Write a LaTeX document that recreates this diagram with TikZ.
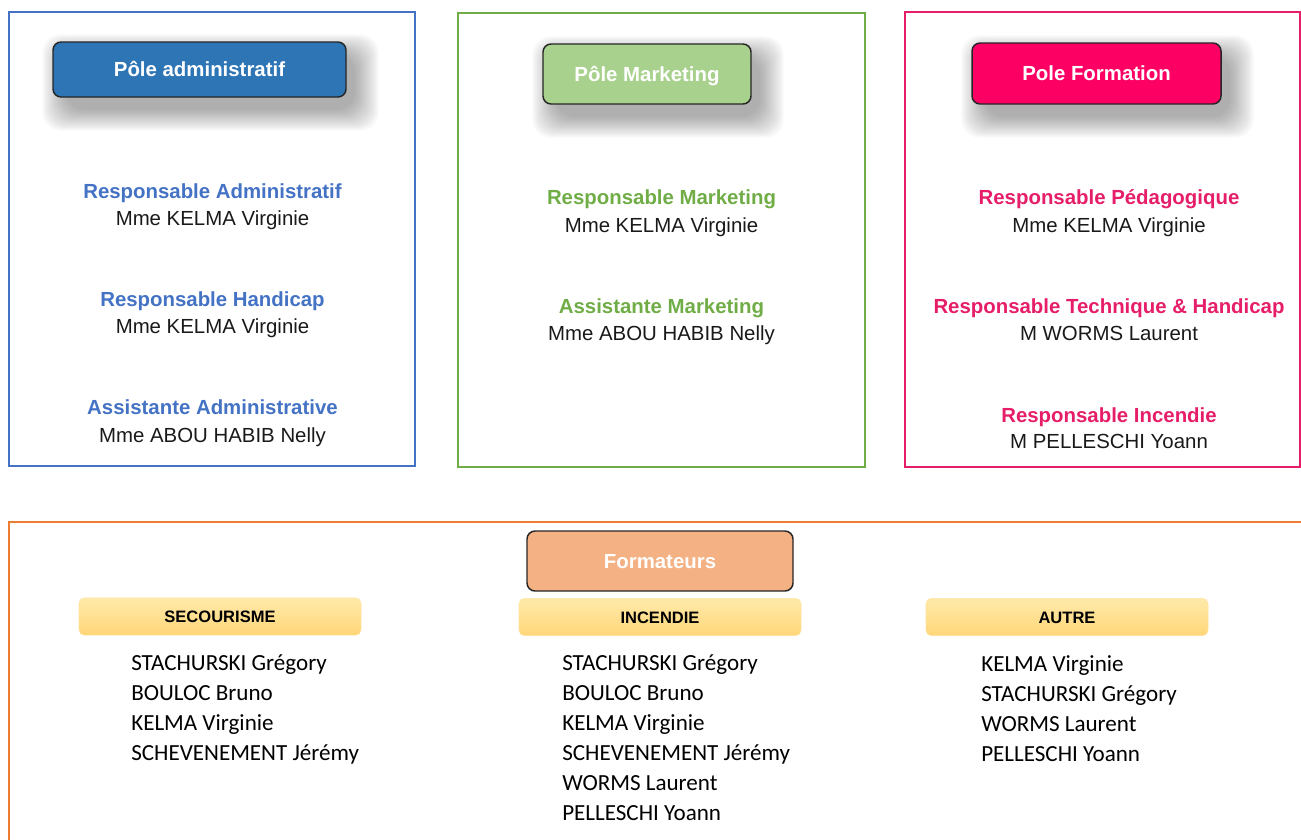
\documentclass[tikz,border=0pt]{standalone}
\usepackage{fontspec}
\setmainfont{Liberation Sans}
\newfontfamily\calib{Carlito}
\usetikzlibrary{backgrounds}
\definecolor{admblue}{RGB}{68,114,196}
\definecolor{admfill}{RGB}{46,117,182}
\definecolor{mkgreen}{RGB}{112,173,71}
\definecolor{mkfill}{RGB}{169,209,142}
\definecolor{fpink}{RGB}{230,30,105}
\definecolor{fpinkfill}{RGB}{252,0,100}
\definecolor{orng}{RGB}{237,125,49}
\definecolor{orfill}{RGB}{244,177,131}
\definecolor{ytop}{RGB}{255,234,170}
\definecolor{ybot}{RGB}{255,214,120}
\tikzset{
  frame/.style={line width=1.7pt},
  button/.style={draw=black!85, line width=1.1pt, rounded corners=6pt, text=white,
    font=\fontsize{15.3}{18}\selectfont\bfseries, text height=11pt, text depth=0pt, inner sep=0pt},
  role/.style={anchor=base, font=\fontsize{15.3}{18}\selectfont\bfseries, inner sep=0pt},
  person/.style={anchor=base, font=\fontsize{15.3}{18}\selectfont, text=black!90, inner sep=0pt},
  catbar/.style={rounded corners=4pt, top color=ytop, bottom color=ybot, draw=ybot!70!white,
    line width=0.4pt, minimum width=211.5pt, minimum height=28pt, inner sep=0pt,
    font=\fontsize{12.4}{14}\selectfont\bfseries, text height=9pt, text depth=0pt},
  member/.style={anchor=base west, font=\calib\fontsize{17.3}{20}\selectfont, inner sep=0pt, text=black}
}
\newcommand{\softshadow}[1]{%
  \begin{pgfonlayer}{background}
  \foreach \i in {0,...,15} {
    \fill[black, opacity=0.022, rounded corners=14pt]
      ([shift={(14-1.6*\i,14-1.4*\i)}]#1.north west) rectangle ([shift={(8+1.6*\i,12+1.4*\i)}]#1.south east);
  }
  \end{pgfonlayer}}
\begin{document}
\begin{tikzpicture}[x=0.75pt,y=-0.75pt]
\useasboundingbox (0,0) rectangle (1301,839);

% frames
\draw[frame, admblue] (9,12) rectangle (415,466);
\draw[frame, mkgreen] (458,13) rectangle (865,467);
\draw[frame, fpink] (905,12) rectangle (1300,467);
\draw[frame, orng] (1310,522) -- (9,522) -- (9,850);

% buttons
\node[button, fill=admfill, minimum width=219.75pt, minimum height=41.25pt] (adm) at (199.5,69.5) {Pôle administratif};
\node[button, fill=mkfill, minimum width=156pt, minimum height=45pt] (mkt) at (647,74) {Pôle Marketing};
\node[button, fill=fpinkfill, minimum width=186.75pt, minimum height=45.75pt] (frm) at (1096.5,73.5) {Pole Formation};
\node[button, fill=orfill, minimum width=199.5pt, minimum height=45pt] (fmt) at (660,561) {Formateurs};
\softshadow{adm}
\softshadow{mkt}
\softshadow{frm}

% administratif
\node[role, text=admblue] (r1) at (212.5,198) {Responsable Administratif};
\node[person] (p1) at (212.5,225) {Mme KELMA Virginie};
\node[role, text=admblue] (r2) at (212.5,306) {Responsable Handicap};
\node[person] (p2) at (212.5,333) {Mme KELMA Virginie};
\node[role, text=admblue] (r3) at (212.5,414) {Assistante Administrative};
\node[person] (p3) at (212.5,442) {Mme ABOU HABIB Nelly};

% marketing
\node[role, text=mkgreen] (r4) at (661.5,204) {Responsable Marketing};
\node[person] (p4) at (661.5,232) {Mme KELMA Virginie};
\node[role, text=mkgreen] (r5) at (661.5,313) {Assistante Marketing};
\node[person] (p5) at (661.5,340) {Mme ABOU HABIB Nelly};

% formation
\node[role, text=fpink] (r6) at (1109,204) {Responsable Pédagogique};
\node[person] (p6) at (1109,232) {Mme KELMA Virginie};
\node[role, text=fpink] (r7) at (1109,313) {Responsable Technique \& Handicap};
\node[person] (p7) at (1109,340) {M WORMS Laurent};
\node[role, text=fpink] (r8) at (1109,422) {Responsable Incendie};
\node[person] (p8) at (1109,448) {M PELLESCHI Yoann};

% categories
\node[catbar] (sec) at (220,616.5) {SECOURISME};
\node[catbar] (inc) at (660,617) {INCENDIE};
\node[catbar] (aut) at (1067,617) {AUTRE};

\foreach \t [count=\k] in {STACHURSKI Grégory, BOULOC Bruno, KELMA Virginie, SCHEVENEMENT Jérémy}
  \node[member] (sec\k) at (131,670+30*\k-30) {\t};
\foreach \t [count=\k] in {STACHURSKI Grégory, BOULOC Bruno, KELMA Virginie, SCHEVENEMENT Jérémy, WORMS Laurent, PELLESCHI Yoann}
  \node[member] (inc\k) at (562,670+30*\k-30) {\t};
\foreach \t [count=\k] in {KELMA Virginie, STACHURSKI Grégory, WORMS Laurent, PELLESCHI Yoann}
  \node[member] (aut\k) at (981,671+30*\k-30) {\t};
\end{tikzpicture}
\end{document}
